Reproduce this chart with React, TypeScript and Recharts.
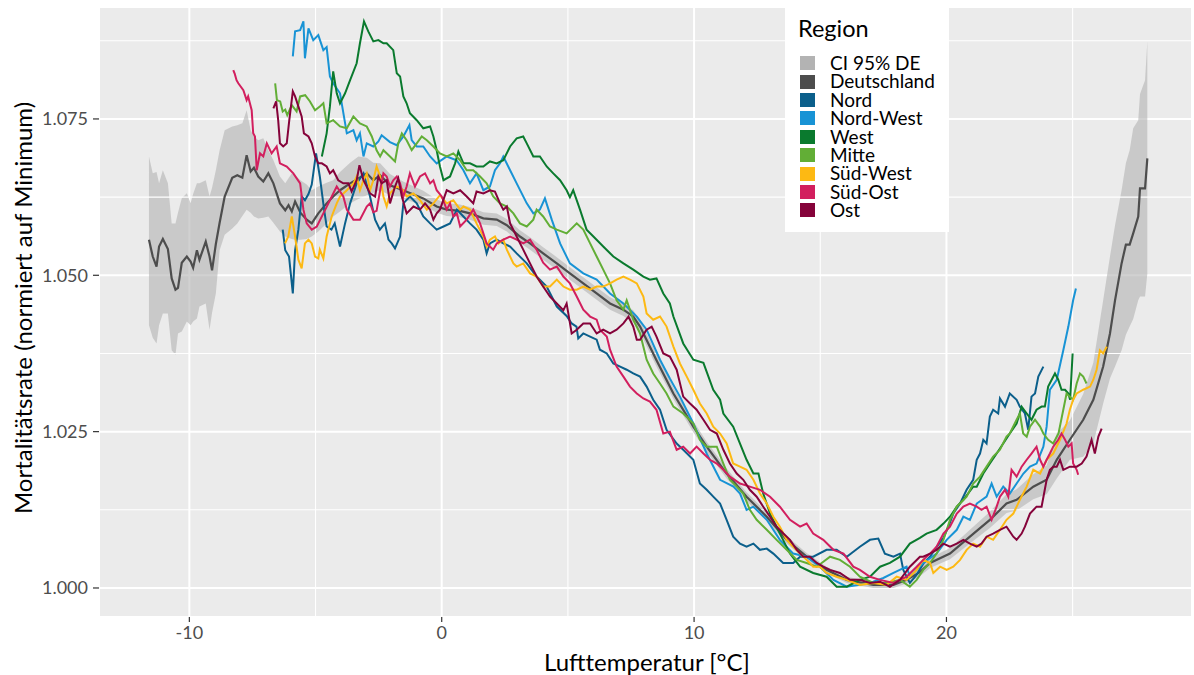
import React from 'react';
import { ComposedChart, Line, Area, XAxis, YAxis, CartesianGrid, ReferenceLine } from 'recharts';

// Deutschland: [Temperatur, Mortalität, CI unten, CI oben]
const deutschland: [number, number, number, number][] = [
  [-11.6, 1.0557, 1.042, 1.069], [-11.45, 1.053, 1.04, 1.0663], [-11.3, 1.0514, 1.0391, 1.0665],
  [-11.2, 1.0546, 1.042, 1.0647], [-11.05, 1.0558, 1.0439, 1.0668], [-10.85, 1.0542, 1.0439, 1.0647],
  [-10.7, 1.0495, 1.038, 1.0583], [-10.55, 1.0477, 1.0373, 1.0583], [-10.45, 1.048, 1.0407, 1.06],
  [-10.3, 1.052, 1.041, 1.0623], [-10.1, 1.053, 1.0426, 1.0631], [-9.95, 1.0522, 1.042, 1.0615],
  [-9.85, 1.0512, 1.0426, 1.063], [-9.7, 1.054, 1.0431, 1.0647], [-9.6, 1.0525, 1.045, 1.0647],
  [-9.35, 1.0554, 1.0455, 1.0652], [-9.2, 1.053, 1.0413, 1.0626], [-9.1, 1.0508, 1.044, 1.064],
  [-8.95, 1.055, 1.0471, 1.0668], [-8.8, 1.0584, 1.054, 1.07], [-8.6, 1.0626, 1.0565, 1.0732],
  [-8.3, 1.0656, 1.0575, 1.0738], [-8.1, 1.066, 1.0583, 1.074], [-7.9, 1.0656, 1.0595, 1.0743],
  [-7.73, 1.0692, 1.0605, 1.0764], [-7.57, 1.0666, 1.06, 1.0732], [-7.44, 1.0672, 1.0594, 1.0722],
  [-7.27, 1.0658, 1.0591, 1.0716], [-7.07, 1.065, 1.0592, 1.0719], [-6.87, 1.0663, 1.0594, 1.07],
  [-6.67, 1.0647, 1.0584, 1.0684], [-6.41, 1.0615, 1.057, 1.0658], [-6.2, 1.0604, 1.0562, 1.0647],
  [-6.07, 1.0612, 1.056, 1.0655], [-5.94, 1.0602, 1.0558, 1.0663], [-5.81, 1.0618, 1.0557, 1.066],
  [-5.6, 1.06, 1.0557, 1.0652], [-5.35, 1.0589, 1.0558, 1.0645], [-5.15, 1.0583, 1.0562, 1.0636],
  [-4.89, 1.0599, 1.057, 1.0642], [-4.56, 1.0615, 1.0583, 1.0648], [-4.3, 1.0626, 1.0594, 1.0652],
  [-4.03, 1.0636, 1.0602, 1.0665], [-3.63, 1.0647, 1.0615, 1.068], [-3.3, 1.0655, 1.0622, 1.069],
  [-2.97, 1.0663, 1.0628, 1.0688], [-2.71, 1.0652, 1.0632, 1.068], [-2.44, 1.066, 1.0636, 1.0679],
  [-2.05, 1.0644, 1.0628, 1.0662], [-1.53, 1.0636, 1.0622, 1.065], [-0.73, 1.0623, 1.0612, 1.0635],
  [-0.2, 1.061, 1.06, 1.0621], [0.2, 1.0605, 1.0595, 1.0615], [0.72, 1.0603, 1.0593, 1.0613],
  [1.12, 1.0599, 1.0589, 1.0609], [1.65, 1.0591, 1.0581, 1.0601], [2.18, 1.0589, 1.0579, 1.0599],
  [2.58, 1.058, 1.057, 1.059], [3.1, 1.0562, 1.0552, 1.0572], [3.5, 1.0551, 1.0541, 1.0561],
  [4.02, 1.0535, 1.0525, 1.0545], [4.56, 1.0519, 1.0509, 1.0529], [5.08, 1.0503, 1.0493, 1.0513],
  [5.61, 1.0487, 1.0477, 1.0497], [6.14, 1.0471, 1.0461, 1.0481], [6.67, 1.0455, 1.0445, 1.0465],
  [7.2, 1.0445, 1.0435, 1.0455], [7.59, 1.0434, 1.0424, 1.0444], [7.86, 1.0418, 1.0408, 1.0428],
  [8.5, 1.0365, 1.0355, 1.0375], [9.18, 1.0311, 1.0302, 1.032], [9.97, 1.0258, 1.0249, 1.0267],
  [10.5, 1.0226, 1.0218, 1.0234], [11.29, 1.0183, 1.0175, 1.0191], [12.08, 1.0146, 1.0139, 1.0153],
  [12.88, 1.0114, 1.0107, 1.0121], [13.67, 1.0077, 1.0071, 1.0083], [14.46, 1.005, 1.0044, 1.0056],
  [15.25, 1.0029, 1.0024, 1.0034], [16.05, 1.0013, 1.0008, 1.0018], [17.1, 1.0005, 1.0, 1.001],
  [17.9, 1.0005, 1.0, 1.001], [18.42, 1.0013, 1.0007, 1.0019], [18.9, 1.0024, 1.0017, 1.0031],
  [19.35, 1.004, 1.0032, 1.0048], [20.14, 1.0055, 1.0046, 1.0064], [20.93, 1.0082, 1.0071, 1.0093],
  [21.72, 1.0109, 1.0096, 1.0122], [22.38, 1.0135, 1.012, 1.015], [22.78, 1.0141, 1.0124, 1.0158],
  [23.44, 1.0162, 1.0142, 1.0182], [23.97, 1.0173, 1.015, 1.0196], [24.37, 1.0205, 1.0175, 1.0247],
  [24.89, 1.0237, 1.0205, 1.0268], [25.42, 1.0269, 1.021, 1.031], [25.82, 1.0301, 1.0231, 1.036],
  [26.21, 1.0354, 1.0295, 1.046], [26.48, 1.0407, 1.0335, 1.053], [26.68, 1.046, 1.0354, 1.058],
  [26.94, 1.0519, 1.038, 1.0636], [27.11, 1.0549, 1.0405, 1.0679], [27.26, 1.0549, 1.0418, 1.07],
  [27.4, 1.0567, 1.043, 1.0735], [27.6, 1.0594, 1.046, 1.0748], [27.67, 1.0639, 1.0466, 1.079],
  [27.87, 1.0639, 1.0466, 1.0812], [27.96, 1.0687, 1.0503, 1.0874],
];

const nord: [number, number][] = [
  [-6.3, 1.0573], [-6.2, 1.054], [-6.05, 1.053], [-5.9, 1.0471], [-5.81, 1.054], [-5.68, 1.0573], [-5.55, 1.0626],
  [-5.42, 1.062], [-5.28, 1.063], [-5.15, 1.0645], [-4.98, 1.0695], [-4.83, 1.0658], [-4.66, 1.0605], [-4.56, 1.0578],
  [-4.37, 1.0573], [-4.24, 1.0583], [-4.03, 1.0546], [-3.83, 1.0583], [-3.63, 1.0615], [-3.37, 1.0647], [-3.1, 1.0663],
  [-2.84, 1.0626], [-2.64, 1.0589], [-2.45, 1.0573], [-2.25, 1.0583], [-2.11, 1.0557], [-1.98, 1.0551], [-1.85, 1.0543],
  [-1.65, 1.0562], [-1.52, 1.0615], [-1.26, 1.0626], [-0.99, 1.0615], [-0.73, 1.0594], [-0.46, 1.0583], [-0.2, 1.0573],
  [0.07, 1.0578], [0.33, 1.0583], [0.6, 1.0605], [0.86, 1.0594], [1.12, 1.0583], [1.38, 1.0573], [1.65, 1.0557],
  [1.78, 1.0535], [1.91, 1.0551], [2.18, 1.0557], [2.44, 1.0551], [2.71, 1.0546], [2.97, 1.0535], [3.37, 1.0519],
  [3.76, 1.0498], [4.16, 1.0482], [4.56, 1.045], [4.95, 1.0435], [5.15, 1.0423], [5.34, 1.0418], [5.41, 1.0399],
  [5.61, 1.0407], [5.88, 1.0402], [6.14, 1.0397], [6.27, 1.0381], [6.54, 1.0375], [6.8, 1.0359], [7.07, 1.0354],
  [7.33, 1.0349], [7.59, 1.0343], [7.86, 1.0338], [8.12, 1.0322], [8.38, 1.0301], [8.65, 1.0285], [8.91, 1.0253],
  [9.31, 1.0231], [9.57, 1.0221], [9.97, 1.0205], [10.23, 1.0167], [10.5, 1.0157], [10.76, 1.0146], [11.03, 1.0135],
  [11.29, 1.0109], [11.55, 1.0082], [11.82, 1.0071], [12.08, 1.0066], [12.35, 1.0071], [12.61, 1.0061], [12.88, 1.0063],
  [13.14, 1.0055], [13.53, 1.004], [13.93, 1.004], [14.2, 1.005], [14.72, 1.005], [15.25, 1.0061], [15.65, 1.0061],
  [16.05, 1.005], [16.57, 1.0066], [16.97, 1.0077], [17.3, 1.0079], [17.56, 1.0055], [17.9, 1.005], [18.16, 1.0055],
  [18.29, 1.0029], [18.55, 1.0008], [18.8, 1.002], [19.1, 1.004], [19.35, 1.005], [19.6, 1.0065], [19.88, 1.008],
  [20.1, 1.01], [20.27, 1.0119], [20.54, 1.0135], [20.8, 1.0157], [21.06, 1.0173], [21.2, 1.0205], [21.33, 1.0215],
  [21.46, 1.0237], [21.59, 1.0231], [21.72, 1.0274], [21.85, 1.0285], [22.05, 1.0279], [22.12, 1.0303], [22.32, 1.029],
  [22.51, 1.0311], [22.78, 1.0301], [22.91, 1.029], [23.11, 1.0279], [23.24, 1.0253], [23.37, 1.0306], [23.51, 1.0311],
  [23.64, 1.0338], [23.84, 1.0354],
];

const nordWest: [number, number][] = [
  [-5.9, 1.085], [-5.81, 1.089], [-5.61, 1.0892], [-5.48, 1.0906], [-5.42, 1.0847], [-5.28, 1.0895], [-5.09, 1.0876],
  [-4.89, 1.0884], [-4.69, 1.086], [-4.56, 1.0865], [-4.43, 1.0818], [-4.3, 1.0807], [-4.03, 1.0791], [-3.76, 1.0727],
  [-3.5, 1.0732], [-3.37, 1.0716], [-3.24, 1.0727], [-3.1, 1.069], [-2.97, 1.0711], [-2.71, 1.0706], [-2.51, 1.0714],
  [-2.38, 1.0724], [-2.05, 1.0713], [-1.78, 1.0708], [-1.52, 1.0722], [-1.28, 1.074], [-1.19, 1.0716], [-0.99, 1.0706],
  [-0.73, 1.0706], [-0.46, 1.069], [-0.2, 1.0679], [0.2, 1.069], [0.59, 1.0684], [0.86, 1.0668], [1.12, 1.0647],
  [1.38, 1.0663], [1.65, 1.0636], [1.91, 1.0642], [2.11, 1.0668], [2.31, 1.0679], [2.44, 1.069], [2.71, 1.0668],
  [2.97, 1.0647], [3.37, 1.0615], [3.63, 1.0599], [3.89, 1.0605], [4.09, 1.0623], [4.36, 1.0589], [4.69, 1.0551],
  [5.08, 1.0519], [5.61, 1.0503], [6.14, 1.0493], [6.67, 1.0471], [7.2, 1.0455], [7.73, 1.0434], [8.12, 1.0413],
  [8.65, 1.0365], [9.04, 1.0335], [9.44, 1.0306], [9.97, 1.0263], [10.5, 1.0215], [11.03, 1.0173], [11.56, 1.0162],
  [11.82, 1.0151], [12.08, 1.0125], [12.35, 1.013], [12.88, 1.0109], [13.4, 1.0077], [13.93, 1.0055], [14.46, 1.005],
  [14.99, 1.0034], [15.52, 1.0013], [16.05, 1.0002], [16.57, 1.0005], [17.1, 1.001], [17.5, 1.0016], [17.9, 1.0024],
  [18.42, 1.0034], [18.55, 1.0018], [19.08, 1.004], [19.61, 1.0055], [20.01, 1.0077], [20.41, 1.0093], [20.67, 1.0114],
  [20.93, 1.0109], [21.2, 1.0135], [21.59, 1.0146], [21.79, 1.0167], [21.99, 1.0146], [22.25, 1.0162], [22.51, 1.0151],
  [22.78, 1.0167], [23.05, 1.0183], [23.31, 1.0194], [23.57, 1.0199], [23.84, 1.0226], [23.97, 1.0258], [24.1, 1.0317],
  [24.37, 1.0333], [24.63, 1.038], [24.83, 1.0418], [25.02, 1.046], [25.13, 1.0479],
];

const west: [number, number][] = [
  [-4.75, 1.069], [-4.56, 1.0727], [-4.43, 1.077], [-4.3, 1.0826], [-4.16, 1.0791], [-4.03, 1.0775], [-3.83, 1.0791],
  [-3.63, 1.0812], [-3.37, 1.0839], [-3.24, 1.0871], [-3.08, 1.0906], [-2.91, 1.089], [-2.71, 1.0874], [-2.51, 1.0876],
  [-2.31, 1.0871], [-2.18, 1.0871], [-1.92, 1.086], [-1.78, 1.0823], [-1.65, 1.0818], [-1.52, 1.0786], [-1.39, 1.0775],
  [-1.26, 1.0759], [-0.99, 1.0748], [-0.73, 1.0735], [-0.46, 1.0738], [-0.33, 1.0722], [-0.2, 1.07], [-0.07, 1.0674],
  [0.07, 1.0652], [0.33, 1.0658], [0.53, 1.0679], [0.66, 1.0698], [0.86, 1.0679], [1.12, 1.0679], [1.38, 1.0674],
  [1.65, 1.0674], [1.91, 1.0682], [2.18, 1.0679], [2.44, 1.0684], [2.71, 1.0706], [2.97, 1.0719], [3.23, 1.0722],
  [3.37, 1.0711], [3.63, 1.069], [3.89, 1.069], [4.16, 1.0674], [4.42, 1.0663], [4.69, 1.0652], [4.95, 1.0636],
  [5.08, 1.0625], [5.21, 1.0636], [5.48, 1.0605], [5.74, 1.0573], [6.01, 1.0562], [6.4, 1.0546], [6.8, 1.053],
  [7.2, 1.0519], [7.59, 1.0509], [7.99, 1.0498], [8.25, 1.0493], [8.51, 1.0495], [8.78, 1.0471], [9.04, 1.0455],
  [9.18, 1.0434], [9.57, 1.0391], [9.97, 1.0365], [10.37, 1.036], [10.76, 1.0317], [11.03, 1.0301], [11.16, 1.0279],
  [11.55, 1.0258], [11.82, 1.0231], [12.08, 1.0205], [12.35, 1.0183], [12.55, 1.0183], [12.74, 1.0151], [13.01, 1.0119],
  [13.4, 1.0087], [13.8, 1.0055], [14.2, 1.0034], [14.72, 1.0024], [15.25, 1.0018], [15.65, 1.0002], [16.05, 1.0002],
  [16.57, 1.0013], [16.97, 1.0018], [17.37, 1.0034], [17.76, 1.004], [18.16, 1.005], [18.55, 1.0071], [18.95, 1.008],
  [19.21, 1.0087], [19.61, 1.0093], [19.88, 1.0103], [20.14, 1.0114], [20.41, 1.013], [20.67, 1.0141], [21.06, 1.0162],
  [21.2, 1.0162], [21.46, 1.0183], [21.72, 1.0199], [21.99, 1.0215], [22.25, 1.0231], [22.51, 1.0247], [22.78, 1.0263],
  [22.98, 1.029], [23.18, 1.0279], [23.37, 1.0269], [23.57, 1.0285], [23.77, 1.029], [23.9, 1.029], [24.03, 1.0322],
  [24.17, 1.0333], [24.3, 1.0343], [24.43, 1.0333], [24.56, 1.0317], [24.7, 1.0317], [24.83, 1.0311], [24.9, 1.0301],
  [25.0, 1.0375],
];

const mitte: [number, number][] = [
  [-6.6, 1.0807], [-6.53, 1.078], [-6.4, 1.0778], [-6.3, 1.0762], [-6.2, 1.0765], [-6.12, 1.0756], [-5.94, 1.0772],
  [-5.75, 1.0762], [-5.61, 1.0786], [-5.41, 1.0788], [-5.22, 1.0778], [-5.02, 1.0764], [-4.83, 1.077], [-4.69, 1.0775],
  [-4.56, 1.0743], [-4.3, 1.0748], [-4.03, 1.0738], [-3.76, 1.0735], [-3.5, 1.0754], [-3.24, 1.0743], [-2.97, 1.0738],
  [-2.77, 1.0722], [-2.58, 1.07], [-2.44, 1.069], [-2.31, 1.07], [-2.05, 1.069], [-1.85, 1.0682], [-1.72, 1.0711],
  [-1.58, 1.0727], [-1.39, 1.0716], [-1.19, 1.07], [-0.99, 1.0711], [-0.79, 1.0722], [-0.59, 1.0716], [-0.33, 1.0706],
  [-0.07, 1.0695], [0.2, 1.069], [0.46, 1.0695], [0.73, 1.0684], [0.99, 1.0668], [1.25, 1.0668], [1.52, 1.0658],
  [1.78, 1.0647], [2.04, 1.0626], [2.31, 1.0615], [2.58, 1.061], [2.84, 1.0599], [3.1, 1.0583], [3.37, 1.0578],
  [3.63, 1.0589], [3.76, 1.0605], [4.02, 1.0594], [4.29, 1.0578], [4.56, 1.0573], [4.95, 1.0567], [5.35, 1.0583],
  [5.61, 1.0573], [5.88, 1.0551], [6.14, 1.053], [6.4, 1.0509], [6.67, 1.0487], [6.93, 1.046], [7.2, 1.0445],
  [7.33, 1.046], [7.59, 1.0429], [7.86, 1.0407], [8.12, 1.0365], [8.38, 1.0343], [8.65, 1.0327], [8.91, 1.0311],
  [9.18, 1.029], [9.57, 1.0279], [9.97, 1.0263], [10.23, 1.0237], [10.5, 1.0226], [10.9, 1.0226], [11.16, 1.0199],
  [11.42, 1.0173], [11.69, 1.0162], [11.95, 1.0151], [12.21, 1.0125], [12.48, 1.0109], [12.88, 1.0093], [13.27, 1.0077],
  [13.67, 1.0061], [14.07, 1.0045], [14.46, 1.004], [14.86, 1.0034], [15.39, 1.005], [15.78, 1.0045], [16.18, 1.0034],
  [16.57, 1.0018], [17.1, 1.0008], [17.63, 1.0008], [18.16, 1.0013], [18.55, 1.0002], [18.82, 1.0013], [19.08, 1.0029],
  [19.35, 1.004], [19.61, 1.0055], [19.88, 1.0077], [20.14, 1.0109], [20.41, 1.013], [20.8, 1.0146], [21.06, 1.0167],
  [21.33, 1.0178], [21.59, 1.0194], [21.85, 1.021], [22.12, 1.0221], [22.38, 1.0242], [22.51, 1.0247], [22.78, 1.0269],
  [22.91, 1.0279], [23.04, 1.0247], [23.18, 1.0242], [23.31, 1.0258], [23.51, 1.0269], [23.71, 1.0258], [23.84, 1.0247],
  [24.03, 1.0237], [24.23, 1.0231], [24.44, 1.0247], [24.63, 1.0285], [24.76, 1.0311], [24.89, 1.0306], [25.02, 1.0301],
  [25.16, 1.0327], [25.29, 1.0343], [25.42, 1.0338], [25.55, 1.0327],
];

const suedWest: [number, number][] = [
  [-6.21, 1.0551], [-6.08, 1.0562], [-5.94, 1.0594], [-5.81, 1.0562], [-5.68, 1.0525], [-5.55, 1.0511], [-5.42, 1.0551],
  [-5.28, 1.0557], [-5.15, 1.0551], [-5.02, 1.053], [-4.89, 1.0527], [-4.83, 1.0541], [-4.69, 1.0527], [-4.56, 1.0562],
  [-4.36, 1.0594], [-4.16, 1.0615], [-4.03, 1.0626], [-3.76, 1.0636], [-3.5, 1.0647], [-3.37, 1.0658], [-3.24, 1.0636],
  [-3.1, 1.0652], [-2.97, 1.0663], [-2.84, 1.0636], [-2.71, 1.0652], [-2.58, 1.0674], [-2.44, 1.0658], [-2.31, 1.0626],
  [-2.18, 1.061], [-2.05, 1.0631], [-1.78, 1.0642], [-1.52, 1.0636], [-1.39, 1.0626], [-1.12, 1.0631], [-0.86, 1.062],
  [-0.59, 1.0605], [-0.33, 1.0615], [-0.07, 1.0628], [0.2, 1.0615], [0.46, 1.062], [0.73, 1.0605], [0.86, 1.061],
  [1.12, 1.0605], [1.38, 1.0583], [1.65, 1.0562], [1.78, 1.0546], [1.91, 1.0557], [2.11, 1.0562], [2.25, 1.0551],
  [2.44, 1.0557], [2.58, 1.0541], [2.84, 1.0519], [2.97, 1.0514], [3.23, 1.0519], [3.5, 1.0503], [3.76, 1.0498],
  [4.02, 1.0482], [4.29, 1.0482], [4.56, 1.0493], [4.82, 1.0482], [5.08, 1.0477], [5.35, 1.0477], [5.61, 1.0482],
  [5.88, 1.0477], [6.14, 1.0482], [6.4, 1.0482], [6.67, 1.0487], [6.93, 1.0493], [7.2, 1.0498], [7.46, 1.0493],
  [7.73, 1.0487], [7.99, 1.0466], [8.12, 1.0439], [8.38, 1.0429], [8.65, 1.0434], [8.91, 1.0418], [9.18, 1.0386],
  [9.44, 1.0359], [9.71, 1.0338], [9.97, 1.0317], [10.23, 1.0295], [10.5, 1.0279], [10.76, 1.0258], [11.03, 1.0247],
  [11.29, 1.0231], [11.55, 1.0199], [11.82, 1.0194], [12.08, 1.0189], [12.35, 1.0173], [12.61, 1.0151], [12.88, 1.0135],
  [13.14, 1.0114], [13.4, 1.0098], [13.67, 1.0077], [13.93, 1.0066], [14.2, 1.0055], [14.46, 1.0045], [14.72, 1.0034],
  [14.99, 1.0034], [15.25, 1.0024], [15.65, 1.0018], [16.05, 1.0013], [16.57, 1.0005], [17.1, 1.0008], [17.63, 1.0005],
  [18.03, 1.0018], [18.42, 1.0013], [18.82, 1.0029], [19.08, 1.0045], [19.35, 1.004], [19.48, 1.0024], [19.75, 1.0034],
  [20.01, 1.0029], [20.27, 1.0034], [20.54, 1.0045], [20.8, 1.0061], [21.06, 1.0071], [21.33, 1.0066], [21.59, 1.0082],
  [21.85, 1.0077], [22.12, 1.0093], [22.38, 1.0109], [22.65, 1.0119], [22.91, 1.0141], [23.18, 1.0162], [23.44, 1.0189],
  [23.71, 1.0183], [23.97, 1.0205], [24.23, 1.0215], [24.5, 1.0237], [24.76, 1.0263], [24.89, 1.0285], [25.02, 1.0301],
  [25.16, 1.0311], [25.42, 1.0317], [25.69, 1.0322], [25.82, 1.0333], [25.95, 1.0349], [26.08, 1.038], [26.21, 1.0375],
  [26.35, 1.0386],
];

const suedOst: [number, number][] = [
  [-8.26, 1.0828], [-8.2, 1.0822], [-8.13, 1.0812], [-8.06, 1.0807], [-7.86, 1.0796], [-7.73, 1.078], [-7.67, 1.0786],
  [-7.53, 1.0764], [-7.47, 1.0727], [-7.4, 1.0722], [-7.33, 1.0668], [-7.2, 1.0695], [-7.07, 1.069], [-6.93, 1.0711],
  [-6.74, 1.0695], [-6.54, 1.0706], [-6.41, 1.0679], [-6.14, 1.0674], [-5.88, 1.0663], [-5.61, 1.0647], [-5.48, 1.0605],
  [-5.35, 1.0583], [-5.15, 1.0573], [-4.95, 1.0578], [-4.69, 1.0599], [-4.43, 1.062], [-4.16, 1.0642], [-3.9, 1.0626],
  [-3.76, 1.0605], [-3.5, 1.0589], [-3.24, 1.0589], [-2.97, 1.061], [-2.84, 1.0615], [-2.71, 1.0601], [-2.58, 1.0603],
  [-2.44, 1.0636], [-2.31, 1.0663], [-2.18, 1.0658], [-2.05, 1.0642], [-1.92, 1.0652], [-1.78, 1.0658], [-1.65, 1.0647],
  [-1.52, 1.0626], [-1.39, 1.0642], [-1.26, 1.0663], [-1.06, 1.0642], [-0.86, 1.0658], [-0.66, 1.0663], [-0.46, 1.0647],
  [-0.33, 1.0652], [-0.2, 1.0636], [0.0, 1.0626], [0.2, 1.0605], [0.33, 1.0615], [0.46, 1.0594], [0.6, 1.0599],
  [0.73, 1.0578], [0.99, 1.0589], [1.25, 1.0605], [1.52, 1.0583], [1.78, 1.0551], [2.04, 1.0541], [2.18, 1.0551],
  [2.44, 1.0557], [2.71, 1.0562], [2.97, 1.0557], [3.23, 1.0551], [3.5, 1.0557], [3.76, 1.0541], [4.02, 1.052],
  [4.29, 1.0509], [4.56, 1.0514], [4.82, 1.0498], [5.08, 1.0487], [5.35, 1.0466], [5.61, 1.0445], [5.88, 1.0434],
  [6.14, 1.0429], [6.27, 1.0413], [6.54, 1.0402], [6.67, 1.0381], [6.93, 1.0354], [7.2, 1.0338], [7.46, 1.0322],
  [7.73, 1.0311], [7.99, 1.0303], [8.25, 1.0298], [8.51, 1.0285], [8.78, 1.0247], [9.04, 1.025], [9.31, 1.0221],
  [9.57, 1.0226], [9.84, 1.0215], [10.1, 1.0226], [10.37, 1.0215], [10.63, 1.0205], [10.9, 1.0199], [11.16, 1.0189],
  [11.42, 1.0178], [11.82, 1.0167], [12.21, 1.0162], [12.61, 1.0157], [13.01, 1.0146], [13.4, 1.013], [13.8, 1.0109],
  [14.2, 1.0098], [14.46, 1.0103], [14.72, 1.0087], [15.12, 1.0077], [15.52, 1.0061], [15.92, 1.0055], [16.31, 1.0034],
  [16.57, 1.0029], [16.97, 1.0018], [17.37, 1.0013], [17.9, 1.0008], [18.42, 1.0018], [18.82, 1.0034], [19.08, 1.0045],
  [19.35, 1.0055], [19.61, 1.0066], [19.88, 1.0087], [20.14, 1.0098], [20.41, 1.0119], [20.67, 1.013], [20.93, 1.0135],
  [21.2, 1.013], [21.39, 1.0125], [21.59, 1.013], [21.79, 1.0109], [21.99, 1.013], [22.12, 1.0146], [22.32, 1.0157],
  [22.45, 1.0146], [22.58, 1.0189], [22.78, 1.0178], [22.98, 1.0194], [23.18, 1.0205], [23.37, 1.0215], [23.57, 1.0226],
  [23.71, 1.0205], [23.84, 1.0194], [23.97, 1.0205], [24.1, 1.0215], [24.23, 1.0226], [24.43, 1.0237], [24.56, 1.0247],
  [24.7, 1.0237], [24.83, 1.0226], [24.96, 1.0231], [25.02, 1.0199], [25.16, 1.0189], [25.22, 1.0181],
];

const ost: [number, number][] = [
  [-6.67, 1.0767], [-6.56, 1.0778], [-6.48, 1.0748], [-6.41, 1.0711], [-6.28, 1.0706], [-6.14, 1.0711], [-6.04, 1.0748],
  [-5.9, 1.0794], [-5.81, 1.0786], [-5.68, 1.077], [-5.55, 1.0754], [-5.46, 1.0727], [-5.28, 1.0722], [-5.15, 1.0711],
  [-5.02, 1.069], [-4.89, 1.0679], [-4.75, 1.0679], [-4.56, 1.0674], [-4.43, 1.0663], [-4.3, 1.0668], [-4.1, 1.0652],
  [-3.9, 1.0647], [-3.7, 1.0647], [-3.57, 1.0634], [-3.37, 1.0652], [-3.26, 1.0676], [-3.1, 1.0652], [-2.84, 1.0631],
  [-2.64, 1.0626], [-2.51, 1.0658], [-2.38, 1.0647], [-2.18, 1.0652], [-2.05, 1.0615], [-1.85, 1.0642], [-1.72, 1.0655],
  [-1.58, 1.0626], [-1.39, 1.0599], [-1.12, 1.061], [-0.86, 1.0605], [-0.66, 1.0615], [-0.46, 1.0605], [-0.33, 1.0589],
  [-0.2, 1.0599], [-0.07, 1.0605], [0.2, 1.0636], [0.46, 1.0631], [0.73, 1.0636], [0.99, 1.0626], [1.25, 1.0615],
  [1.38, 1.0634], [1.65, 1.0631], [1.91, 1.0636], [2.11, 1.0634], [2.31, 1.0615], [2.44, 1.0605], [2.58, 1.061],
  [2.71, 1.0583], [2.97, 1.0562], [3.23, 1.0541], [3.5, 1.0519], [3.76, 1.0498], [4.02, 1.0482], [4.29, 1.0466],
  [4.56, 1.0455], [4.82, 1.0444], [4.95, 1.0455], [5.15, 1.0407], [5.35, 1.0413], [5.61, 1.0423], [5.88, 1.0423],
  [6.14, 1.0407], [6.4, 1.0413], [6.67, 1.0407], [6.93, 1.0413], [7.2, 1.0423], [7.4, 1.0434], [7.59, 1.0418],
  [7.73, 1.0397], [7.86, 1.0397], [8.12, 1.0413], [8.32, 1.0418], [8.51, 1.0402], [8.78, 1.0375], [9.04, 1.037],
  [9.31, 1.0349], [9.57, 1.0306], [9.84, 1.0295], [10.1, 1.0285], [10.37, 1.0269], [10.63, 1.0253], [10.9, 1.0247],
  [11.16, 1.0221], [11.42, 1.0199], [11.69, 1.0183], [11.95, 1.0173], [12.21, 1.0157], [12.48, 1.0146], [12.74, 1.013],
  [13.01, 1.0114], [13.27, 1.0098], [13.54, 1.0087], [13.8, 1.0077], [14.07, 1.0061], [14.33, 1.005], [14.59, 1.005],
  [14.86, 1.004], [15.12, 1.0034], [15.39, 1.0029], [15.78, 1.0024], [16.18, 1.0013], [16.57, 1.0013], [16.97, 1.0008],
  [17.37, 1.001], [17.76, 1.0002], [18.16, 1.0013], [18.55, 1.0034], [18.95, 1.005], [19.08, 1.005], [19.35, 1.0055],
  [19.61, 1.0061], [19.88, 1.0071], [20.14, 1.0066], [20.41, 1.0071], [20.67, 1.0077], [20.93, 1.0071], [21.2, 1.0066],
  [21.39, 1.0071], [21.59, 1.0082], [21.85, 1.0087], [22.12, 1.0093], [22.38, 1.0098], [22.65, 1.0082], [22.78, 1.0077],
  [22.98, 1.0087], [23.11, 1.0098], [23.31, 1.0119], [23.57, 1.013], [23.77, 1.013], [23.97, 1.0173], [24.1, 1.0189],
  [24.23, 1.0194], [24.37, 1.0194], [24.5, 1.0205], [24.63, 1.0189], [24.89, 1.0194], [25.16, 1.0194], [25.36, 1.0199],
  [25.55, 1.021], [25.75, 1.0237], [25.88, 1.0215], [26.02, 1.0242], [26.15, 1.0255],
];

const xTicks = [-10, 0, 10, 20];
const xMinor = [-5, 5, 15, 25];
const yTicks = [1.0, 1.025, 1.05, 1.075];
const yMinor = [1.0125, 1.0375, 1.0625, 1.0875];

const regions = [
  { name: 'Nord', color: '#0B5F8B', data: nord },
  { name: 'Nord-West', color: '#1893D5', data: nordWest },
  { name: 'West', color: '#0A7A2E', data: west },
  { name: 'Mitte', color: '#62AE36', data: mitte },
  { name: 'Süd-West', color: '#FDB913', data: suedWest },
  { name: 'Süd-Ost', color: '#D21F5E', data: suedOst },
  { name: 'Ost', color: '#85033A', data: ost },
];

const FONT = 'Lato, "Open Sans", sans-serif';

const legendItems = [
  { name: 'CI 95% DE', color: '#B3B3B3' },
  { name: 'Deutschland', color: '#4D4D4D' },
  ...regions.map((r) => ({ name: r.name, color: r.color })),
];

export default function App() {
  const deData = deutschland.map(([t, v, lo, hi]) => ({ t, v, band: [lo, hi] }));

  return (
    <div style={{ position: 'absolute', left: 0, top: 0, width: 1194, height: 675, background: '#fff', fontFamily: FONT }}>
      <ComposedChart width={1194} height={675} margin={{ top: 7, right: 2, bottom: 0, left: 8 }}>
        <CartesianGrid fill="#EBEBEB" stroke="#FFFFFF" strokeWidth={2} />
        {xMinor.map((x) => (
          <ReferenceLine key={'xm' + x} x={x} stroke="#FFFFFF" strokeWidth={1.1} />
        ))}
        {yMinor.map((y) => (
          <ReferenceLine key={'ym' + y} y={y} stroke="#FFFFFF" strokeWidth={1.1} />
        ))}
        <XAxis
          type="number"
          dataKey="t"
          domain={[-13.58, 29.73]}
          ticks={xTicks}
          allowDataOverflow
          axisLine={false}
          tickLine={{ stroke: '#333333', strokeWidth: 1.2 }}
          tickSize={5}
          tickMargin={4}
          height={58}
          tick={{ fill: '#4D4D4D', fontSize: 18, fontFamily: FONT }}
        />
        <YAxis
          type="number"
          domain={[0.99536, 1.0929]}
          ticks={yTicks}
          allowDataOverflow
          axisLine={false}
          tickLine={{ stroke: '#333333', strokeWidth: 1.2 }}
          tickSize={6}
          tickMargin={5}
          width={91}
          tickFormatter={(v: number) => v.toFixed(3)}
          tick={{ fill: '#4D4D4D', fontSize: 18, fontFamily: FONT }}
        />
        <Area
          data={deData}
          dataKey="band"
          type="linear"
          stroke="none"
          fill="#B3B3B3"
          fillOpacity={0.6}
          isAnimationActive={false}
          dot={false}
          activeDot={false}
        />
        <Line
          data={deData}
          dataKey="v"
          type="linear"
          stroke="#4D4D4D"
          strokeWidth={2.2}
          dot={false}
          activeDot={false}
          isAnimationActive={false}
        />
        {regions.map((r) => (
          <Line
            key={r.name}
            data={r.data.map(([t, v]) => ({ t, v }))}
            dataKey="v"
            name={r.name}
            type="linear"
            stroke={r.color}
            strokeWidth={2}
            dot={false}
            activeDot={false}
            isAnimationActive={false}
          />
        ))}
      </ComposedChart>

      <div
        style={{
          position: 'absolute', left: 785, top: 8, width: 164, height: 224,
          background: '#FFFFFF', boxSizing: 'border-box', paddingLeft: 13, paddingTop: 6,
        }}
      >
        <div style={{ fontSize: 23.5, color: '#000', lineHeight: '28px', marginBottom: 12 }}>Region</div>
        {legendItems.map((it) => (
          <div key={it.name} style={{ display: 'flex', alignItems: 'center', height: 18.4 }}>
            <div style={{ width: 15, height: 14, background: it.color, marginLeft: 2 }} />
            <div style={{ marginLeft: 15, fontSize: 19, color: '#000', lineHeight: '18.4px', whiteSpace: 'nowrap' }}>{it.name}</div>
          </div>
        ))}
      </div>

      <div
        style={{
          position: 'absolute', left: 647, top: 661, transform: 'translate(-50%, -50%)',
          fontSize: 24, color: '#000', whiteSpace: 'nowrap',
        }}
      >
        Lufttemperatur [°C]
      </div>
      <div
        style={{
          position: 'absolute', left: 22, top: 308, transform: 'translate(-50%, -50%) rotate(-90deg)',
          fontSize: 24, color: '#000', whiteSpace: 'nowrap',
        }}
      >
        Mortalitätsrate (normiert auf Minimum)
      </div>
    </div>
  );
}
